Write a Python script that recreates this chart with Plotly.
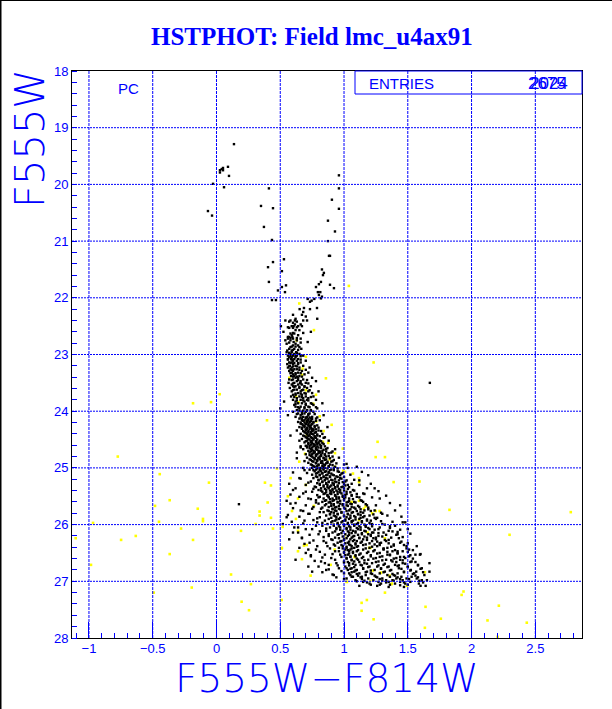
import plotly.graph_objects as go

TITLE = "HSTPHOT: Field lmc_u4ax91"
X_LABEL = "F555W\u2212F814W"
Y_LABEL = "F555W"
X_TICKS = [-1, -0.5, 0, 0.5, 1, 1.5, 2, 2.5]
X_TICK_TEXT = ["\u22121", "\u22120.5", "0", "0.5", "1", "1.5", "2", "2.5"]
Y_TICKS = [18, 19, 20, 21, 22, 23, 24, 25, 26, 27, 28]

# sparse upper part: (colour, magnitude)
branch_black = [
 (0.137,19.29),(0.090,19.69),(0.051,19.71),(0.041,19.73),(0.027,19.75),(0.051,19.75),(0.027,19.79),(0.098,19.85),
 (-0.027,19.99),(0.059,20.05),(0.411,20.07),(0.960,19.84),(0.960,20.07),(0.905,20.27),(0.960,20.43),(0.349,20.38),
 (0.443,20.42),(-0.067,20.47),(-0.035,20.55),(0.874,20.64),(0.929,20.83),(0.372,20.75),(0.435,20.98),(0.874,21.00),
 (0.882,21.26),(0.890,21.26),(0.529,21.32),(0.443,21.37),(0.404,21.46),(0.513,21.53),(0.827,21.50),(0.842,21.56),
 (0.835,21.60),(0.411,21.72),(0.819,21.72),(0.803,21.76),(0.890,21.77),(0.780,21.81),(0.921,21.83),(0.513,21.81),
 (0.545,21.78),(0.482,21.87),(0.537,21.90),(0.795,21.90),(0.814,21.90),(0.803,21.95),(0.827,21.98),(0.819,22.01),
 (0.435,22.04),(0.466,22.04),(0.733,22.07),(0.715,22.02),(0.767,22.02),(0.746,22.05),(0.686,22.18),(0.652,22.20),
 (0.788,22.18),(0.733,22.20),(1.673,23.50),(0.176,25.64),
]

# main sequence, rows of the same magnitude
ms_mag = [
 22.25,22.30,22.33,22.37,22.40,22.44,22.47,22.50,22.53,22.57,22.60,22.63,22.66,22.69,22.72,22.75,22.78,22.81,22.84,22.87,
 22.90,22.93,22.96,22.99,23.02,23.05,23.08,23.11,23.14,23.17,23.20,23.23,23.26,23.29,23.32,23.35,23.38,23.41,23.44,23.47,
 23.50,23.53,23.56,23.59,23.62,23.65,23.68,23.71,23.74,23.77,23.80,23.83,23.86,23.89,23.92,23.95,23.98,24.01,24.04,24.07,
 24.10,24.13,24.16,24.19,24.22,24.25,24.28,24.31,24.34,24.37,24.40,24.43,24.46,24.49,24.52,24.55,24.58,24.61,24.64,24.67,
 24.70,24.73,24.76,24.79,24.82,24.85,24.88,24.91,24.94,24.97,25.00,25.03,25.06,25.09,25.12,25.15,25.18,25.21,25.24,25.27,
 25.30,25.33,25.36,25.39,25.42,25.45,25.48,25.51,25.54,25.57,25.60,25.63,25.66,25.69,25.72,25.75,25.78,25.81,25.84,25.87,
 25.90,25.93,25.96,25.99,26.02,26.05,26.08,26.11,26.14,26.17,26.20,26.23,26.26,26.29,26.32,26.35,26.38,26.41,26.44,26.47,
 26.50,26.53,26.56,26.59,26.62,26.65,26.68,26.71,26.74,26.77,26.80,26.83,26.86,26.89,26.92,26.95,26.98,27.01,27.04,27.08,
]
ms_colour = [
 [0.68],[0.60,0.67],[0.70],[0.62,0.79],[0.54,0.58,0.615,0.68,0.71],[0.60],[0.615,0.66],[0.505,0.59,0.605,0.64,0.67],[0.57,0.60],[0.62,0.65],[0.525,0.74],[0.58,0.61],[0.59,0.64],[0.56,0.57,0.595],[0.56,0.60,0.66],[0.54,0.58,0.63],[0.605,0.715],[0.55,0.62],[0.60,0.64],[0.58,0.65],
 [0.61,0.665,0.57],[0.555,0.59],[0.55,0.59,0.625],[0.58,0.65,0.61],[0.56,0.60,0.63,0.68],[0.57,0.62,0.59],[0.585,0.64,0.61,0.56],[0.60,0.63,0.70],[0.57,0.59,0.66],[0.555,0.60,0.64],[0.575,0.62,0.68],[0.56,0.59,0.65,0.73],[0.58,0.61,0.63],[0.57,0.60,0.67],[0.59,0.64,0.72],[0.60,0.62,0.69],[0.585,0.65,0.61],[0.62,0.64,0.75],[0.57,0.60,0.68],[0.63,0.66,0.78],
 [0.565,0.61,0.655,0.70],[0.59,0.64,0.67],[0.60,0.62,0.69,0.74],[0.575,0.65,0.71],[0.61,0.63,0.68],[0.59,0.66,0.72,0.80],[0.64,0.69,0.75],[0.60,0.62,0.67],[0.585,0.65,0.70,0.76],[0.63,0.68,0.72],[0.60,0.66,0.71,0.78],[0.53,0.62,0.69],[0.64,0.67,0.74,0.83],[0.61,0.70,0.76],[0.62,0.66,0.72],[0.50,0.65,0.69,0.79],[0.63,0.71,0.74],[0.60,0.67,0.70,0.76],[0.64,0.69,0.73],[0.56,0.66,0.72,0.84],
 [0.62,0.68,0.71,0.75],[0.65,0.70,0.74,0.78],[0.67,0.69,0.72,0.81],[0.64,0.71,0.73,0.76],[0.66,0.70,0.75],[0.68,0.72,0.74,0.79],[0.65,0.69,0.73,0.77,0.87],[0.67,0.71,0.75],[0.63,0.70,0.76,0.80],[0.69,0.72,0.74,0.78],[0.66,0.71,0.75,0.83],[0.58,0.68,0.73,0.79],[0.70,0.74,0.77,0.85],[0.67,0.72,0.76],[0.65,0.71,0.75,0.81,0.88],[0.69,0.74,0.78,0.80],[0.72,0.76,0.79,0.84],[0.70,0.73,0.77,0.82],[0.66,0.71,0.75,0.80],[0.68,0.74,0.78,0.86,0.93],
 [0.72,0.76,0.80,0.83],[0.63,0.73,0.77,0.81,0.90],[0.70,0.75,0.79,0.85],[0.74,0.78,0.82,0.88],[0.71,0.76,0.80,0.84,0.96],[0.73,0.77,0.81,0.86],[0.69,0.75,0.79,0.83,0.91],[0.72,0.78,0.82,0.87],[0.74,0.80,0.84,0.89,1.00],[0.76,0.79,0.83,0.88],[0.68,0.75,0.81,0.85,0.92,1.03],[0.73,0.78,0.84,0.90],[0.77,0.82,0.86,0.95],[0.71,0.79,0.83,0.88,0.99],[0.75,0.81,0.87,0.91,1.05],[0.78,0.84,0.89,0.94],[0.65,0.76,0.82,0.86,0.97],[0.80,0.85,0.90,1.08],[0.74,0.83,0.88,0.93,1.01],[0.79,0.86,0.91,0.96],
 [0.70,0.81,0.87,0.92,1.12,1.03],[0.77,0.84,0.89,0.95,0.99],[0.82,0.88,0.93,1.00,1.24],[0.60,0.80,0.86,0.91,0.97,1.07],[0.75,0.83,0.90,0.95,1.02],[0.68,0.85,0.89,0.98,1.15],[0.79,0.87,0.93,1.01,1.06],[0.81,0.88,0.94,0.99,1.10],[0.72,0.84,0.91,0.96,1.04,1.28],[0.78,0.86,0.92,1.00,1.13],[0.83,0.89,0.95,1.03,1.08],[0.58,0.80,0.90,0.97,1.05],[0.85,0.92,0.99,1.02,1.18,1.44],[0.76,0.88,0.94,1.06,1.12],[0.82,0.91,0.96,1.01,1.09],[0.66,0.87,0.93,1.04,1.16,1.24],[0.84,0.90,0.98,1.07,1.13],[0.73,0.89,0.95,1.03,1.11,1.30],[0.86,0.92,1.00,1.05,1.20],[0.55,0.81,0.94,1.02,1.09,1.15],
 [0.88,0.96,1.04,1.12,1.25],[0.69,0.85,0.93,1.01,1.07,1.18],[0.79,0.90,0.98,1.06,1.14,1.46,1.48],[0.52,0.87,0.95,1.03,1.10,1.22],[0.83,0.92,1.00,1.08,1.17,1.40],[0.64,0.89,0.97,1.05,1.13,1.28],[0.75,0.94,1.02,1.11,1.20,1.50],[0.86,0.99,1.07,1.16,1.35],[0.60,0.91,1.04,1.09,1.23,1.31],[0.80,0.96,1.01,1.14,1.19,1.42],[0.88,1.03,1.08,1.21,1.27],[0.67,0.93,1.06,1.12,1.18,1.37],[0.57,0.90,1.00,1.05,1.15,1.25],[0.84,0.98,1.07,1.10,1.22,1.33],[0.73,0.95,1.03,1.13,1.29,1.44],[0.92,1.04,1.09,1.17,1.24,1.39],[0.87,0.99,1.06,1.11,1.26,1.49],[0.65,0.96,1.02,1.08,1.20,1.34],[0.78,1.01,1.05,1.15,1.31,1.51],[0.93,1.04,1.10,1.23,1.38,1.46],
 [0.70,1.00,1.07,1.18,1.28,1.42],[0.85,0.97,1.03,1.12,1.36,1.56,1.595],[0.74,1.05,1.09,1.21,1.30,1.51],[0.90,1.02,1.14,1.25,1.41,1.48],[0.62,1.06,1.11,1.19,1.33,1.44],[0.82,1.00,1.08,1.27,1.38,1.53],[0.94,1.04,1.16,1.22,1.46,1.67],[0.88,1.09,1.13,1.31,1.40,1.58],[0.72,1.01,1.20,1.26,1.35,1.50],[0.96,1.06,1.15,1.29,1.43,1.61],[0.86,1.03,1.10,1.24,1.37,1.524],[0.75,1.08,1.18,1.32,1.47,1.566,1.67],[1.00,1.12,1.21,1.28,1.42,1.55],[0.92,1.05,1.17,1.34,1.39,1.63],[1.07,1.14,1.25,1.36,1.45,1.53],[1.02,1.19,1.30,1.41,1.49,1.57],[1.09,1.23,1.33,1.38,1.46,1.61,1.65],[1.15,1.27,1.35,1.44,1.52],[1.20,1.29,1.40,1.48,1.587],[1.12,1.26,1.64,1.60],
]

# second pass over the dense core, between the rows above
core_mag = [
 22.42,22.52,22.62,22.71,22.79,22.86,22.92,22.97,23.03,23.09,23.15,23.21,23.27,23.33,23.39,23.45,23.51,23.57,23.63,23.69,
 23.75,23.81,23.87,23.93,23.99,24.05,24.11,24.14,24.17,24.20,24.23,24.26,24.29,24.32,24.35,24.38,24.41,24.44,24.47,24.50,
 24.53,24.56,24.59,24.62,24.65,24.68,24.71,24.74,24.77,24.80,24.83,24.86,24.89,24.92,24.95,24.98,25.01,25.04,25.07,25.10,
 25.13,25.16,25.19,25.22,25.25,25.28,25.31,25.34,25.37,25.40,25.43,25.46,25.49,25.52,25.55,25.58,25.61,25.64,25.67,25.70,
 25.73,25.76,25.79,25.82,25.85,25.88,25.91,25.94,25.97,26.00,26.03,26.06,26.09,26.12,26.15,26.18,26.21,26.24,26.27,26.30,
 26.33,26.36,26.39,26.42,26.45,26.48,26.51,26.54,26.57,26.60,26.63,26.66,26.69,26.72,26.75,26.78,26.81,26.84,26.87,26.90,
 26.93,26.96,26.99,27.02,27.06,27.10,
]
core_colour = [
 [0.57,0.63],[0.56,0.63],[0.60,0.68],[0.58,0.63],[0.57,0.66],[0.59,0.62],[0.60,0.64],[0.57,0.63],[0.58,0.66,0.62],[0.56,0.59,0.66],[0.58,0.61,0.64],[0.57,0.60,0.63],[0.59,0.65,0.70],[0.58,0.62,0.66],[0.60,0.63,0.67],[0.59,0.64,0.71],[0.60,0.66,0.72],[0.61,0.65,0.69],[0.60,0.67,0.73],[0.62,0.66,0.70],
 [0.61,0.67,0.74],[0.63,0.68,0.72],[0.62,0.70,0.75],[0.64,0.69,0.73,0.78],[0.65,0.68,0.71,0.74],[0.63,0.67,0.72,0.77],[0.66,0.70,0.73,0.79],[0.67,0.72,0.75],[0.68,0.71,0.74,0.78],[0.66,0.69,0.73,0.76],[0.67,0.70,0.72,0.75],[0.69,0.73,0.77],[0.67,0.71,0.74,0.80],[0.70,0.73,0.76,0.78],[0.68,0.72,0.75,0.82],[0.70,0.74,0.77],[0.71,0.73,0.76,0.79],[0.69,0.72,0.77,0.81],[0.71,0.75,0.78,0.84],[0.73,0.76,0.79],
 [0.70,0.74,0.78,0.82],[0.72,0.75,0.80,0.83],[0.74,0.77,0.81],[0.71,0.76,0.79,0.85],[0.73,0.78,0.82,0.87],[0.75,0.79,0.84],[0.74,0.77,0.81,0.86],[0.76,0.80,0.83,0.88],[0.73,0.78,0.82,0.85],[0.75,0.81,0.86,0.91],[0.77,0.80,0.84,0.89],[0.74,0.79,0.85,0.92],[0.76,0.82,0.87,0.90],[0.78,0.83,0.86,0.94],[0.75,0.80,0.85,0.91],[0.77,0.84,0.88,0.93],[0.79,0.83,0.87,0.95],[0.76,0.81,0.89,0.92],[0.80,0.85,0.88,0.96],[0.78,0.83,0.90,0.98],
 [0.81,0.86,0.92,0.97],[0.79,0.84,0.89,0.95,1.00],[0.82,0.87,0.93,0.98],[0.80,0.85,0.91,0.96,1.02],[0.83,0.88,0.94,0.99],[0.81,0.86,0.92,1.00,1.06],[0.84,0.90,0.95,1.01],[0.78,0.87,0.93,0.98,1.04],[0.85,0.91,0.96,1.03],[0.82,0.89,0.94,1.00,1.08],[0.86,0.92,0.97,1.05],[0.84,0.90,0.95,1.02,1.10],[0.87,0.93,0.99,1.06],[0.80,0.88,0.96,1.01,1.12],[0.89,0.94,1.00,1.07],[0.85,0.91,0.97,1.04,1.14],[0.88,0.95,1.02,1.09],[0.86,0.92,0.99,1.06,1.17],[0.90,0.96,1.03,1.11],[0.83,0.93,1.00,1.08,1.19],
 [0.91,0.97,1.05,1.13],[0.88,0.94,1.02,1.10,1.21],[0.92,0.98,1.06,1.15],[0.89,0.95,1.03,1.11,1.23],[0.93,1.00,1.08,1.16],[0.90,0.97,1.05,1.13,1.26],[0.94,1.01,1.09,1.18],[0.91,0.99,1.06,1.14,1.29],[0.95,1.03,1.11,1.20],[0.92,1.00,1.08,1.16,1.32],[0.96,1.04,1.12,1.22],[0.94,1.02,1.10,1.19,1.36],[0.97,1.05,1.13,1.24],[0.93,1.03,1.09,1.17,1.38],[0.98,1.06,1.14,1.27],[0.95,1.04,1.11,1.21,1.41],[0.99,1.07,1.16,1.30],[0.96,1.02,1.12,1.23,1.43],[1.00,1.08,1.18,1.32],[0.97,1.04,1.14,1.26,1.45],
 [1.01,1.09,1.20,1.35],[0.98,1.05,1.15,1.28,1.47],[1.02,1.10,1.22,1.37],[0.99,1.06,1.17,1.31,1.49],[1.03,1.11,1.24,1.40],[1.00,1.07,1.19,1.34,1.50],[1.04,1.13,1.26,1.42],[1.01,1.09,1.21,1.36,1.52],[1.05,1.15,1.28,1.44],[1.02,1.10,1.23,1.39,1.54],[1.06,1.16,1.30,1.46],[1.03,1.12,1.25,1.41,1.56],[1.07,1.18,1.32,1.48],[1.04,1.14,1.27,1.43,1.58],[1.08,1.19,1.34,1.50],[1.05,1.15,1.29,1.45,1.60],[1.09,1.21,1.36,1.52],[1.06,1.17,1.31,1.47,1.62],[1.10,1.22,1.38,1.54],[1.11,1.24,1.40,1.56],
 [1.13,1.26,1.42,1.58],[1.14,1.28,1.44,1.51],[1.16,1.30,1.39,1.59],[1.18,1.33,1.47,1.62],[1.21,1.36,1.50],[1.35,1.47],
]

# scattered stars on both sides of the faint sequence: (colour, magnitude)
wide_black = [
 (0.66,24.62),(0.63,24.83),(0.91,24.71),(1.02,24.93),(1.10,24.98),(0.60,25.08),(0.69,25.04),(1.14,25.07),(1.19,25.13),(0.66,25.19),
 (0.57,25.28),(0.72,25.26),(1.12,25.22),(1.21,25.28),(0.62,25.36),(0.70,25.42),(0.76,25.37),(1.18,25.36),(1.27,25.41),(0.58,25.47),
 (0.65,25.51),(0.74,25.55),(1.16,25.46),(1.22,25.52),(1.33,25.49),(0.55,25.58),(0.62,25.62),(0.70,25.66),(0.78,25.61),(1.15,25.60),
 (1.25,25.66),(1.36,25.62),(0.60,25.71),(0.68,25.76),(0.75,25.72),(0.81,25.78),(1.19,25.73),(1.29,25.79),(1.40,25.75),(0.56,25.83),
 (0.65,25.86),(0.72,25.81),(0.79,25.89),(1.13,25.83),(1.24,25.88),(1.34,25.84),(1.45,25.86),(0.59,25.95),(0.68,25.98),(0.76,25.92),
 (0.83,25.97),(1.21,25.93),(1.30,25.99),(1.38,25.95),(0.61,26.05),(0.70,26.08),(0.78,26.02),(0.86,26.07),(1.17,26.04),(1.27,26.08),
 (1.36,26.03),(1.44,26.09),(0.64,26.14),(0.73,26.18),(0.81,26.12),(0.88,26.17),(1.22,26.14),(1.33,26.18),(1.42,26.13),(1.52,26.16),
 (0.67,26.24),(0.76,26.28),(0.84,26.22),(0.91,26.27),(1.25,26.23),(1.35,26.27),(1.46,26.22),(0.69,26.34),(0.79,26.38),(0.86,26.32),
 (0.93,26.37),(1.28,26.33),(1.39,26.37),(1.50,26.33),(1.57,26.38),(0.72,26.44),(0.81,26.48),(0.89,26.42),(0.96,26.47),(1.31,26.43),
 (1.42,26.47),(1.54,26.45),(0.74,26.54),(0.83,26.58),(0.91,26.52),(0.98,26.57),(1.34,26.53),(1.47,26.57),(1.60,26.52),(0.77,26.64),
 (0.85,26.68),(0.93,26.62),(1.00,26.67),(1.37,26.63),(1.52,26.66),(0.80,26.74),(0.88,26.79),(0.95,26.72),(1.02,26.77),(1.42,26.73),
 (0.83,26.84),(0.91,26.88),(0.98,26.82),(1.04,26.86),(0.94,26.93),(1.00,26.96),(1.06,26.92),(1.10,27.00),(1.28,27.06),(1.44,27.07),
]

yellow_points = [
 (0.025,23.70),(-0.184,23.86),(-0.043,23.84),(0.396,24.16),(-0.774,24.80),(0.474,25.01),(-0.445,25.11),(-0.059,25.26),
 (0.380,25.26),(0.427,25.31),(-0.367,25.57),(0.401,25.61),(-0.482,25.67),(-0.147,25.72),(0.338,25.77),(0.338,25.84),
 (0.427,25.88),(-0.106,25.90),(-0.106,25.94),(-0.451,25.95),(-0.968,25.97),(0.307,25.99),(-0.278,26.07),(0.443,26.07),
 (0.192,26.11),(-1.104,26.24),(-0.633,26.20),(-0.748,26.27),(-0.184,26.27),(0.511,26.42),(-0.367,26.52),(-0.984,26.71),
 (0.114,26.88),(0.270,27.05),(-0.194,27.11),(-0.492,27.20),(0.511,27.33),(0.197,27.36),(0.255,27.51),
 (1.038,21.79),(1.232,23.14),(1.263,24.54),(1.248,24.81),(1.321,24.81),(1.389,25.25),(1.592,25.24),(1.827,25.74),
 (2.778,25.78),(2.298,26.18),(1.634,26.84),(1.493,27.08),(1.937,27.18),(1.922,27.24),(1.321,27.20),(1.373,27.05),
 (1.179,27.33),(1.138,27.38),(1.138,27.52),(1.639,27.45),(2.214,27.43),(1.232,27.67),(1.759,27.66),(2.125,27.69),
 (2.433,27.73),(1.634,27.82),(2.204,27.98),(1.023,27.01),(1.205,26.99),(1.289,26.85),(1.226,26.81),(1.357,26.90),
 (0.991,24.66),(1.117,25.18),(1.117,25.25),(1.007,25.07),(1.070,25.10),(1.059,25.60),(1.117,25.58),(1.169,25.68),
 (1.155,25.72),(1.248,25.76),(1.279,25.76),(1.221,25.80),(1.117,25.92),(1.321,26.24),(1.185,26.14),(1.002,26.21),
 (1.085,26.57),(1.197,26.41),(0.764,22.57),(0.649,22.10),(0.628,22.75),(0.701,23.04),(0.597,23.01),(0.675,23.25),
 (0.858,23.42),(0.571,23.41),(0.670,23.36),(0.701,23.63),(0.780,23.71),(0.623,23.74),(0.644,23.84),(0.759,23.87),
 (0.709,24.18),(0.782,24.18),(0.903,24.24),(0.840,24.35),(0.709,24.42),(0.835,24.54),(0.876,24.56),(0.929,24.74),
 (0.694,24.75),(0.649,24.89),(0.887,24.85),(0.929,24.98),(0.809,24.09),(0.581,25.18),(0.701,25.30),(0.560,25.50),
 (0.639,25.54),(0.592,25.76),(0.764,25.67),(0.623,25.90),(0.994,25.05),(0.519,26.04),(0.639,26.11),(0.686,26.37),
 (0.707,26.36),(0.513,26.41),(0.639,26.47),(0.670,26.61),(0.738,26.90),(0.895,26.71),(0.926,26.44),(1.208,26.41),
 (1.083,26.57),(1.287,26.85),(1.020,27.01),(1.375,27.04),
]

ms_x = [c for row in ms_colour for c in row]
ms_y = [m for m, row in zip(ms_mag, ms_colour) for _ in row]
core_x = [c for row in core_colour for c in row]
core_y = [m for m, row in zip(core_mag, core_colour) for _ in row]
black_x = [p[0] for p in branch_black + wide_black] + ms_x + core_x
black_y = [p[1] for p in branch_black + wide_black] + ms_y + core_y
yellow_x = [p[0] for p in yellow_points]
yellow_y = [p[1] for p in yellow_points]

W, H = 612, 709
L, R, T, B = 72, 582, 71, 638
BLUE = "#0000ff"
THIN = "DejaVu Sans ExtraLight, DejaVu Sans Light, Liberation Sans, sans-serif"
SMALL = "Liberation Sans"


def px(v):
    return (v - L) / (R - L)


def py(v):
    return (B - v) / (B - T)


fig = go.Figure()
fig.add_trace(go.Scatter(x=yellow_x, y=yellow_y, mode="markers", name="rejected",
                         marker=dict(symbol="square", size=2.6, color="#ffff00", line_width=0),
                         hoverinfo="skip"))
fig.add_trace(go.Scatter(x=black_x, y=black_y, mode="markers", name="all",
                         marker=dict(symbol="square", size=2.4, color="black", line_width=0),
                         hoverinfo="skip"))

shapes = []
for v in X_TICKS:
    shapes.append(dict(type="line", xref="x", yref="paper", x0=v, x1=v, y0=0, y1=1, layer="above",
                       line=dict(color=BLUE, width=1, dash="3px,1px")))
for v in Y_TICKS[1:-1]:
    shapes.append(dict(type="line", xref="paper", yref="y", x0=0, x1=1, y0=v, y1=v, layer="above",
                       line=dict(color=BLUE, width=1, dash="2px,1px")))
# statistics box
shapes.append(dict(type="rect", xref="paper", yref="paper", x0=px(355), x1=1, y0=py(94), y1=1,
                   line=dict(color=BLUE, width=1), layer="above"))
# window border on the left and top
shapes.append(dict(type="rect", xref="paper", yref="paper", x0=px(0), x1=px(1.5), y0=py(H), y1=py(0),
                   fillcolor="black", line_width=0, layer="above"))
shapes.append(dict(type="rect", xref="paper", yref="paper", x0=px(0), x1=px(W), y0=py(1), y1=py(0),
                   fillcolor="black", line_width=0, layer="above"))

ann = []
ann.append(dict(text=f"<b>{TITLE}</b>", xref="paper", yref="paper", x=px(311.5), y=py(37), showarrow=False,
                xanchor="center", yanchor="middle", font=dict(family="Liberation Serif", size=25, color=BLUE)))
ann.append(dict(text=X_LABEL, xref="paper", yref="paper", x=px(327), y=py(678), showarrow=False,
                xanchor="center", yanchor="middle", font=dict(family=THIN, size=39, color=BLUE)))
ann.append(dict(text=Y_LABEL, xref="paper", yref="paper", x=px(30), y=py(139), showarrow=False, textangle=-90,
                xanchor="center", yanchor="middle", font=dict(family=THIN, size=40, color=BLUE)))
ann.append(dict(text="PC", xref="paper", yref="paper", x=px(128), y=py(88), showarrow=False,
                xanchor="center", yanchor="middle", font=dict(family=SMALL, size=15, color=BLUE)))
ann.append(dict(text="ENTRIES", xref="paper", yref="paper", x=px(367), y=py(83), showarrow=False,
                xanchor="left", yanchor="middle", font=dict(family=SMALL, size=15, color=BLUE)))
ann.append(dict(text="2675", xref="paper", yref="paper", x=px(568), y=py(83), showarrow=False,
                xanchor="right", yanchor="middle", font=dict(family=SMALL, size=17, color=BLUE)))
ann.append(dict(text="2024", xref="paper", yref="paper", x=px(570), y=py(83), showarrow=False,
                xanchor="right", yanchor="middle", font=dict(family=SMALL, size=17, color=BLUE)))

fig.update_layout(
    width=W, height=H, autosize=False, showlegend=False,
    paper_bgcolor="white", plot_bgcolor="white",
    margin=dict(l=L, r=W - R, t=T, b=H - B, pad=0),
    xaxis=dict(range=[-1.133, 2.866], showgrid=False, zeroline=False, showline=True, linecolor="black", linewidth=1,
               mirror=True, tickmode="array", tickvals=X_TICKS, ticktext=X_TICK_TEXT, ticks="inside", ticklen=16,
               tickcolor=BLUE, tickwidth=1, ticklabelstandoff=-2,
               tickfont=dict(family="Liberation Sans", size=13, color=BLUE),
               minor=dict(dtick=0.1, tick0=0, ticks="inside", ticklen=5, tickcolor=BLUE, tickwidth=1, showgrid=False)),
    yaxis=dict(range=[28, 18], showgrid=False, zeroline=False, showline=True, linecolor="black", linewidth=1,
               mirror=True, tickmode="array", tickvals=Y_TICKS, ticks="", tickfont=dict(family="Liberation Sans", size=13, color=BLUE),
               minor=dict(dtick=0.2, tick0=18, ticks="inside", ticklen=5, tickcolor=BLUE, tickwidth=1, showgrid=False)),
    shapes=shapes, annotations=ann,
)
fig.write_html("out.html", config={"displayModeBar": False},
               post_script="document.body.style.margin='0';")
